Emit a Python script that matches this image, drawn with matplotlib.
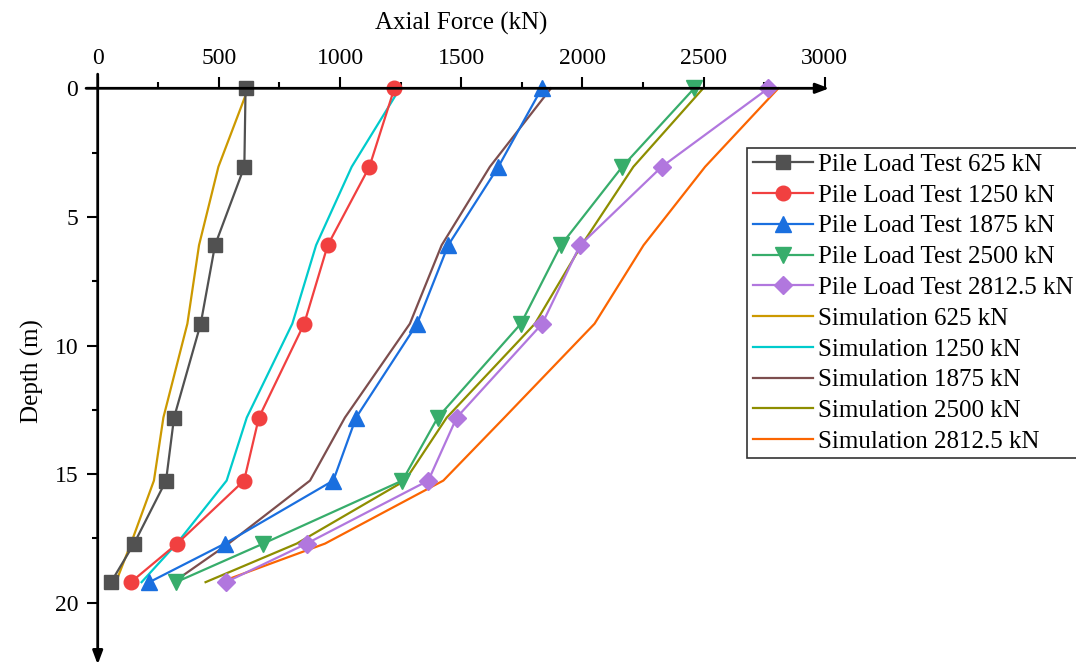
import matplotlib.pyplot as plt
from matplotlib.ticker import MultipleLocator

plt.rcParams['font.family'] = ['Liberation Serif', 'DejaVu Serif']
plt.rcParams['mathtext.fontset'] = 'stix'

# depths of the strain gauge levels (m)
depth = [0, 3.05, 6.1, 9.15, 12.8, 15.25, 17.7, 19.2]

# measured axial force (kN)
test_625 = [610, 605, 484, 425, 315, 282, 150, 55]
test_1250 = [1224, 1121, 949, 852, 665, 604, 328, 137]
test_1875 = [1832, 1653, 1446, 1318, 1066, 972, 525, 213]
test_2500 = [2461, 2164, 1911, 1746, 1403, 1257, 683, 323]
test_2812 = [2767, 2327, 1990, 1834, 1481, 1364, 862, 529]

# simulated axial force (kN)
sim_625 = [621, 498, 418, 370, 271, 232, 137, 75]
sim_1250 = [1247, 1048, 901, 803, 615, 532, 326, 181]
sim_1875 = [1870, 1618, 1419, 1288, 1020, 876, 540, 312]
sim_2500 = [2498, 2210, 1996, 1804, 1440, 1268, 821, 445]
sim_2812 = [2808, 2506, 2252, 2050, 1678, 1426, 938, 505]

test_series = [
    ('Pile Load Test 625 kN', test_625, '#515151', 's', 9.5),
    ('Pile Load Test 1250 kN', test_1250, '#F14040', 'o', 10.5),
    ('Pile Load Test 1875 kN', test_1875, '#1A6FDF', '^', 11),
    ('Pile Load Test 2500 kN', test_2500, '#37AD6B', 'v', 11),
    ('Pile Load Test 2812.5 kN', test_2812, '#B177DE', 'D', 9),
]
sim_series = [
    ('Simulation 625 kN', sim_625, '#CC9900'),
    ('Simulation 1250 kN', sim_1250, '#00CBCC'),
    ('Simulation 1875 kN', sim_1875, '#7D4E4E'),
    ('Simulation 2500 kN', sim_2500, '#8E8E00'),
    ('Simulation 2812.5 kN', sim_2812, '#FB6501'),
]

fig = plt.figure(figsize=(10.76, 6.72), dpi=100)
ax = fig.add_axes([0.0908, 0.0265, 0.6758, 0.8421])

for label, vals, color, marker, ms in test_series:
    ax.plot(vals, depth, color=color, marker=marker, markersize=ms,
            linewidth=1.6, label=label, clip_on=False, zorder=3)
for label, vals, color in sim_series:
    ax.plot(vals, depth, color=color, linewidth=1.6, label=label,
            clip_on=False, zorder=2)

ax.set_xlim(0, 3000)
ax.set_ylim(22, 0)

# axes drawn as arrows crossing at the origin
for s in ax.spines.values():
    s.set_visible(False)
ax.annotate('', xy=(3018, 0), xytext=(-48, 0), annotation_clip=False,
            arrowprops=dict(arrowstyle='-|>,head_length=0.8,head_width=0.3',
                            color='black', lw=2, shrinkA=0, shrinkB=0))
ax.annotate('', xy=(0, 22.4), xytext=(0, -0.55), annotation_clip=False,
            arrowprops=dict(arrowstyle='-|>,head_length=0.8,head_width=0.3',
                            color='black', lw=2, shrinkA=0, shrinkB=0))

ax.xaxis.set_ticks_position('top')
ax.xaxis.set_label_position('top')
ax.xaxis.set_major_locator(MultipleLocator(500))
ax.xaxis.set_minor_locator(MultipleLocator(250))
ax.yaxis.set_major_locator(MultipleLocator(5))
ax.yaxis.set_minor_locator(MultipleLocator(2.5))
ax.tick_params(which='major', direction='out', length=8, width=1.5, labelsize=17)
ax.tick_params(which='minor', direction='out', length=4.5, width=1.5)
ax.tick_params(axis='x', pad=6)
ax.tick_params(axis='y', pad=6)

ax.set_xlabel('Axial Force (kN)', fontsize=18, labelpad=13)
ax.set_ylabel('Depth (m)', fontsize=18, labelpad=8)

leg = ax.legend(loc='upper left', bbox_to_anchor=(747 / 1076, 1 - 148 / 672),
                bbox_transform=fig.transFigure, fontsize=18, frameon=True,
                fancybox=False, edgecolor='#333333', framealpha=1,
                handlelength=2.4, handletextpad=0.22, labelspacing=0.33,
                borderpad=0.22, borderaxespad=0)
leg.get_frame().set_linewidth(1.2)

fig.savefig('out.png', dpi=100)
